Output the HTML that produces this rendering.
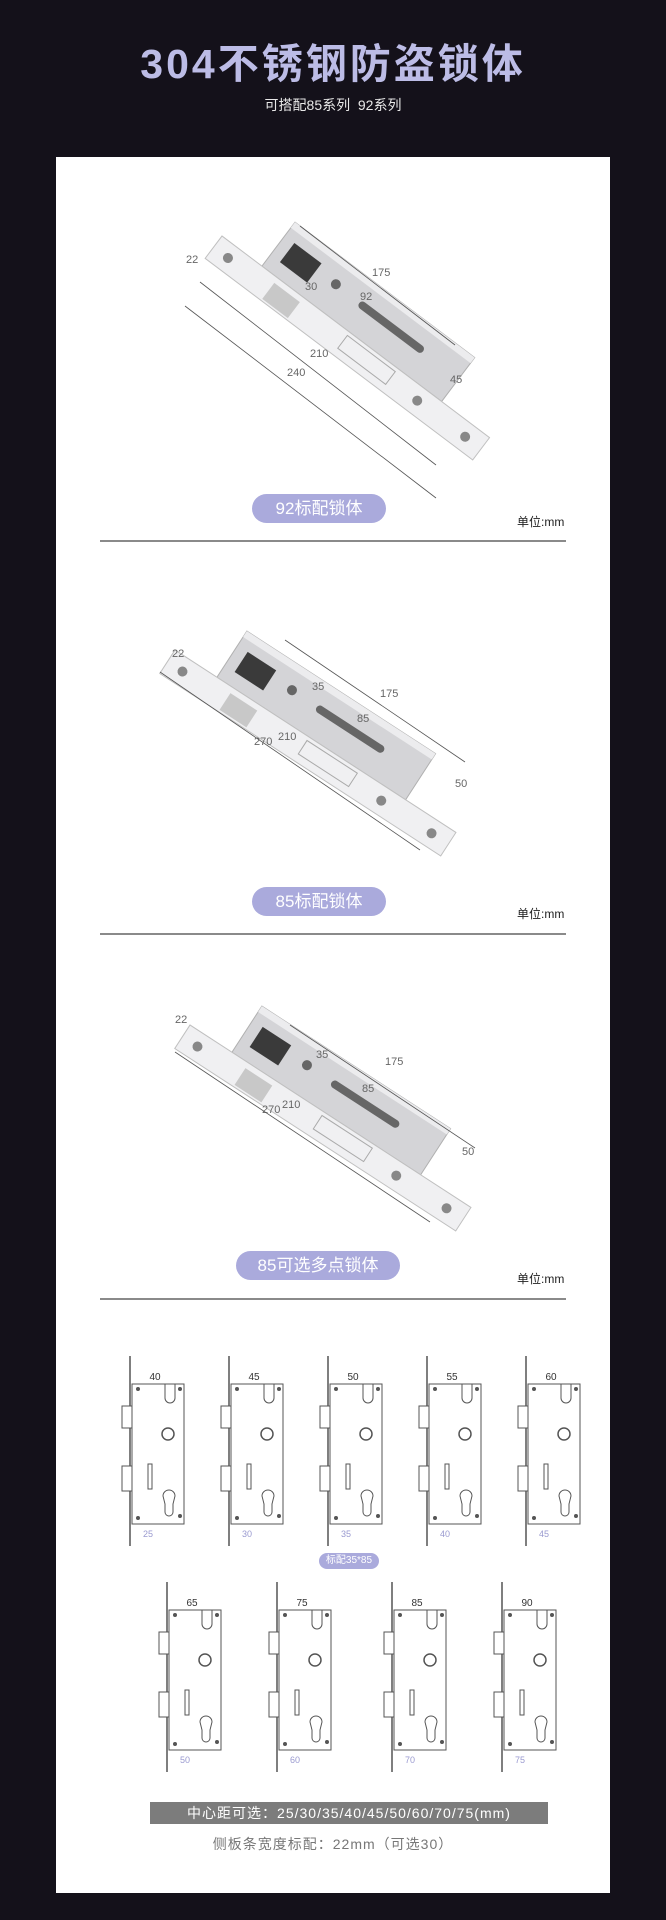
<!DOCTYPE html>
<html><head><meta charset="utf-8"><style>
body{margin:0;background:#14111a;width:666px;height:1920px;overflow:hidden;font-family:"Liberation Sans","Noto Sans CJK SC",sans-serif;position:relative}
.t{position:absolute;left:0;width:666px;text-align:center}
.panel{position:absolute;left:56px;top:157px;width:554px;height:1736px;background:#fff}
.pill{position:absolute;height:29px;line-height:29px;border-radius:15px;background:#aaaadc;color:#fff;font-size:17px;text-align:center}
.unit{position:absolute;font-size:12px;color:#222}
.hr{position:absolute;left:100px;width:466px;height:2px;background:#8a8a8a}
svg{position:absolute;left:0;top:0}
</style></head><body>
<div class="t" style="top:30px;font-size:41px;font-weight:bold;color:#bcbce6;letter-spacing:3px">304不锈钢防盗锁体</div>
<div class="t" style="top:95px;font-size:14px;color:#e8e8e8">可搭配85系列&nbsp; 92系列</div>
<div class="panel"></div>

<svg width="666" height="1920" viewBox="0 0 666 1920">
<defs>
<g id="lock">
 <rect x="50" y="-55" width="225" height="55" fill="#d4d4d7" stroke="#b0b0b0"/>
 <rect x="50" y="-55" width="225" height="7" fill="#ececee"/>
 <rect x="62" y="-38" width="34" height="24" fill="#3a3a3a"/>
 <ellipse cx="120" cy="-30" rx="5" ry="5" fill="#666"/>
 <rect x="150" y="-33" width="80" height="8" rx="4" fill="#666"/>
 <rect x="0" y="0" width="335" height="28" fill="#f0f0f2" stroke="#c0c0c0"/>
 <rect x="70" y="6" width="32" height="20" fill="#c8c8c8"/>
 <rect x="160" y="4" width="60" height="16" fill="none" stroke="#aaa"/>
 <circle cx="18" cy="14" r="5" fill="#888"/>
 <circle cx="315" cy="14" r="5" fill="#888"/>
 <circle cx="255" cy="14" r="5" fill="#888"/>
</g>
<g id="sm">
 <line x1="-30" y1="0" x2="-30" y2="190" stroke="#555" stroke-width="1.5"/>
 <rect x="-28" y="28" width="52" height="140" fill="#fff" stroke="#555"/>
 <rect x="-38" y="50" width="10" height="22" fill="#fff" stroke="#555"/>
 <rect x="-38" y="110" width="10" height="25" fill="#fff" stroke="#555"/>
 <path d="M5 28 v14 a5 5 0 0 0 10 0 v-14" fill="none" stroke="#555"/>
 <circle cx="8" cy="78" r="6" fill="none" stroke="#555" stroke-width="1.5"/>
 <rect x="-12" y="108" width="4" height="25" fill="none" stroke="#555"/>
 <path d="M3 140 a6 6 0 0 1 12 0 l-2 8 v8 a3 3 0 0 1 -8 0 v-8z" fill="none" stroke="#555"/>
 <circle cx="-22" cy="33" r="2" fill="#555"/><circle cx="20" cy="33" r="2" fill="#555"/>
 <circle cx="-22" cy="162" r="2" fill="#555"/><circle cx="20" cy="160" r="2" fill="#555"/>
</g>
</defs>
<g transform="translate(222,236) rotate(37)"><use href="#lock"/></g>
<g transform="translate(175,650) rotate(33)"><use href="#lock"/></g>
<g transform="translate(190,1025) rotate(33)"><use href="#lock"/></g>
<g font-size="11" fill="#666" font-family="Liberation Sans">
 <text x="186" y="263">22</text><text x="372" y="276">175</text><text x="305" y="290">30</text><text x="360" y="300">92</text><text x="310" y="357">210</text><text x="287" y="376">240</text><text x="450" y="383">45</text>
 <text x="172" y="657">22</text><text x="380" y="697">175</text><text x="312" y="690">35</text><text x="357" y="722">85</text><text x="278" y="740">210</text><text x="254" y="745">270</text><text x="455" y="787">50</text>
 <text x="175" y="1023">22</text><text x="385" y="1065">175</text><text x="316" y="1058">35</text><text x="362" y="1092">85</text><text x="282" y="1108">210</text><text x="262" y="1113">270</text><text x="462" y="1155">50</text>
</g>
<g stroke="#555" stroke-width="0.8">
 <line x1="200" y1="282" x2="436" y2="465"/><line x1="185" y1="306" x2="436" y2="498"/><line x1="300" y1="226" x2="455" y2="345"/>
 <line x1="160" y1="672" x2="420" y2="850"/><line x1="285" y1="640" x2="465" y2="762"/>
 <line x1="175" y1="1052" x2="430" y2="1222"/><line x1="290" y1="1025" x2="475" y2="1148"/>
</g>
<g>
 <use href="#sm" transform="translate(160,1356)"/>
 <use href="#sm" transform="translate(259,1356)"/>
 <use href="#sm" transform="translate(358,1356)"/>
 <use href="#sm" transform="translate(457,1356)"/>
 <use href="#sm" transform="translate(556,1356)"/>
 <use href="#sm" transform="translate(197,1582)"/>
 <use href="#sm" transform="translate(307,1582)"/>
 <use href="#sm" transform="translate(422,1582)"/>
 <use href="#sm" transform="translate(532,1582)"/>
</g>
<g font-size="10" fill="#333" text-anchor="middle" font-family="Liberation Sans">
 <text x="155" y="1380">40</text><text x="254" y="1380">45</text><text x="353" y="1380">50</text><text x="452" y="1380">55</text><text x="551" y="1380">60</text>
 <text x="192" y="1606">65</text><text x="302" y="1606">75</text><text x="417" y="1606">85</text><text x="527" y="1606">90</text>
</g>
<g font-size="9" fill="#9a9ad0" font-family="Liberation Sans">
 <text x="143" y="1537">25</text><text x="242" y="1537">30</text><text x="341" y="1537">35</text><text x="440" y="1537">40</text><text x="539" y="1537">45</text>
 <text x="180" y="1763">50</text><text x="290" y="1763">60</text><text x="405" y="1763">70</text><text x="515" y="1763">75</text>
</g>
</svg>

<div class="pill" style="left:252px;top:494px;width:134px">92标配锁体</div>
<div class="unit" style="left:517px;top:513px">单位:mm</div>
<div class="hr" style="top:540px"></div>
<div class="pill" style="left:252px;top:887px;width:134px">85标配锁体</div>
<div class="unit" style="left:517px;top:905px">单位:mm</div>
<div class="hr" style="top:933px"></div>
<div class="pill" style="left:236px;top:1251px;width:164px">85可选多点锁体</div>
<div class="unit" style="left:517px;top:1270px">单位:mm</div>
<div class="hr" style="top:1298px"></div>
<div class="pill" style="left:319px;top:1553px;width:60px;height:16px;line-height:16px;font-size:10px;border-radius:8px">标配35*85</div>
<div style="position:absolute;left:150px;top:1802px;width:398px;height:22px;line-height:22px;background:#7c7c7c;color:#fff;font-size:14px;text-align:center;letter-spacing:1px">中心距可选：25/30/35/40/45/50/60/70/75(mm)</div>
<div class="t" style="top:1834px;font-size:14px;color:#777;letter-spacing:1px">侧板条宽度标配：22mm（可选30）</div>
</body></html>
